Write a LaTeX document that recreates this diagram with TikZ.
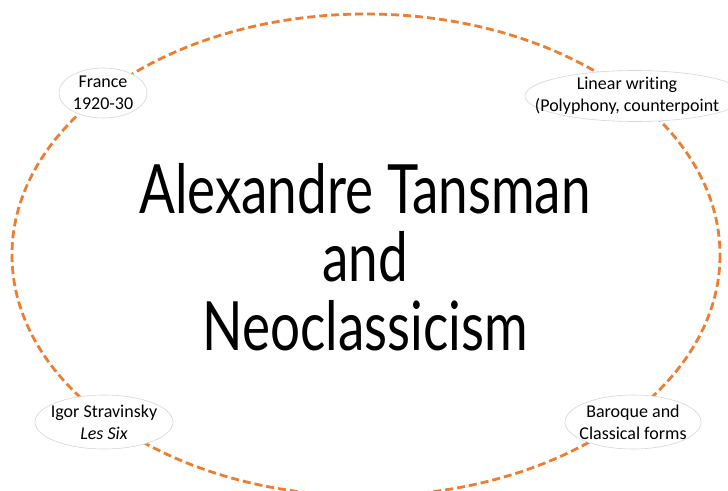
\documentclass[tikz,border=0pt]{standalone}
\usepackage{fontspec}
\setmainfont{Carlito}[Ligatures=NoCommon]
\newfontfamily\titlefont{Lato}[FakeStretch=0.78]
\usetikzlibrary{shapes.geometric}
\definecolor{ringorange}{HTML}{ED7D31}
\definecolor{bubbleline}{HTML}{D6D6D6}

\begin{document}
\begin{tikzpicture}[
    x=1pt, y=-1pt,
    ring/.style={draw=ringorange, line width=2.8pt, dash pattern=on 8pt off 4pt},
    topic/.style={ellipse, draw=bubbleline, line width=0.6pt, fill=white, inner sep=0pt},
    note/.style={align=center, inner sep=0pt, font=\fontsize{18}{22}\selectfont},
    title/.style={align=center, inner sep=0pt, font=\titlefont\fontsize{68}{68.5}\selectfont}
]
\useasboundingbox (0,0) rectangle (728,490);
\draw[ring] (366,255) ellipse [x radius=354, y radius=241];
\node[title] (main) at (365,257) {Alexandre Tansman\\and\\Neoclassicism};
\node[topic, minimum width=88, minimum height=50,
      label={[note]center:{France\\1920-30}}] (france) at (103,93) {};
\node[topic, minimum width=220, minimum height=51,
      label={[note, xshift=-8]center:{Linear writing\\(Polyphony, counterpoint}}] (linear) at (635,96) {};
\node[topic, minimum width=138, minimum height=54,
      label={[note]center:{Igor Stravinsky\\\textit{Les Six}}}] (igor) at (104,422) {};
\node[topic, minimum width=136, minimum height=54,
      label={[note]center:{Baroque and\\Classical forms}}] (baroque) at (633,422) {};
\end{tikzpicture}
\end{document}
